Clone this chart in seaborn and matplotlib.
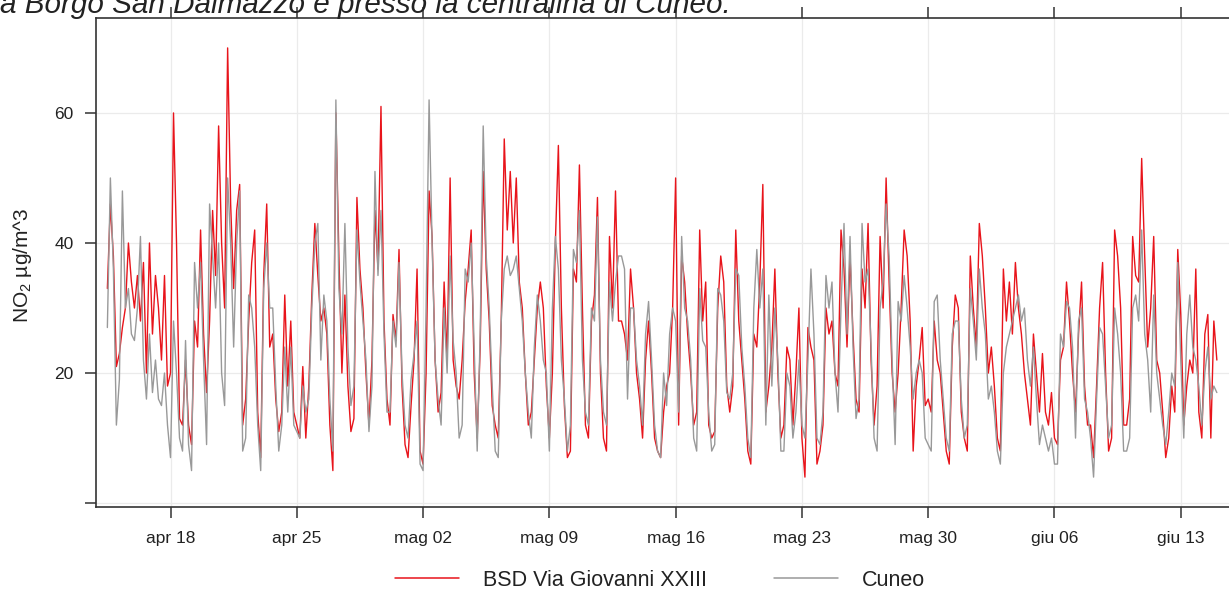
import matplotlib
matplotlib.use("Agg")
import matplotlib.pyplot as plt
from matplotlib.lines import Line2D
import pandas as pd
import seaborn as sns

# NO2 readings every 4 hours, one row per day, starting 14 April at 12:00
series_start = "2021-04-14 12:00"
series_step = "4h"

bsd_values = [
    33, 46, 38,                 # apr 14
    21, 23, 27, 30, 40, 34,     # apr 15
    30, 35, 28, 37, 20, 40,
    26, 35, 30, 22, 35, 18,
    20, 60, 40, 13, 12, 22,     # apr 18
    12, 9, 28, 24, 42, 26,
    17, 28, 45, 35, 58, 40,
    30, 70, 46, 33, 45, 49,
    12, 16, 28, 37, 42, 14,
    7, 35, 46, 24, 26, 16,
    11, 14, 32, 18, 28, 14,
    12, 10, 21, 10, 18, 32,     # apr 25
    43, 35, 28, 30, 26, 12,
    5, 60, 38, 20, 32, 18,
    11, 13, 47, 36, 30, 20,
    12, 22, 45, 36, 61, 28,
    16, 12, 29, 25, 39, 18,
    9, 7, 15, 22, 36, 8,        # mag 01
    6, 20, 48, 41, 22, 14,
    17, 34, 22, 50, 22, 18,
    16, 22, 31, 36, 42, 20,
    10, 24, 51, 36, 28, 15,
    12, 10, 28, 56, 42, 51,
    40, 50, 34, 30, 20, 12,
    14, 22, 30, 34, 30, 18,
    10, 20, 40, 55, 30, 15,     # mag 09
    7, 8, 36, 34, 52, 30,
    12, 10, 28, 32, 47, 20,
    10, 8, 41, 30, 48, 28,
    28, 26, 22, 36, 30, 20,
    16, 10, 22, 28, 20, 10,
    8, 7, 14, 18, 20, 30,
    50, 12, 38, 34, 26, 20,     # mag 16
    12, 14, 42, 28, 34, 12,
    10, 11, 30, 38, 34, 18,
    14, 18, 42, 28, 22, 16,
    8, 6, 26, 24, 34, 49,
    14, 18, 24, 36, 20, 10,
    12, 24, 22, 12, 20, 30,
    10, 4, 27, 24, 22, 6,       # mag 23
    8, 12, 30, 26, 28, 20,
    18, 42, 36, 24, 38, 26,
    16, 14, 36, 30, 43, 22,
    12, 18, 41, 30, 50, 34,
    20, 14, 20, 30, 42, 38,
    28, 8, 18, 22, 27, 15,
    16, 14, 28, 22, 20, 14,     # mag 30
    8, 6, 24, 32, 30, 14,
    10, 8, 38, 30, 24, 43,      # giu 01
    38, 30, 20, 24, 18, 10,
    8, 36, 28, 34, 26, 37,
    30, 26, 20, 16, 12, 26,
    20, 14, 23, 14, 12, 17,
    10, 9, 22, 24, 34, 28,      # giu 06
    20, 14, 26, 34, 18, 12,
    12, 7, 18, 30, 37, 20,
    8, 10, 42, 38, 30, 12,
    12, 16, 41, 35, 34, 53,
    38, 24, 30, 41, 22, 20,
    14, 7, 10, 18, 14, 39,
    29, 12, 18, 22, 20, 36,     # giu 13
    14, 10, 26, 29, 10, 28,
    22,                         # giu 15
]

cuneo_values = [
    27, 50, 36,
    12, 19, 48, 30, 33, 26,
    25, 30, 41, 22, 16, 26,
    17, 22, 16, 15, 20, 12,
    7, 28, 20, 10, 8, 25,
    9, 5, 37, 30, 37, 22,
    9, 46, 38, 30, 40, 20,
    15, 50, 40, 24, 40, 48,
    8, 10, 32, 30, 24, 12,
    5, 33, 40, 30, 30, 18,
    8, 12, 24, 14, 24, 12,
    11, 10, 18, 14, 16, 30,
    40, 43, 22, 32, 28, 16,
    8, 62, 33, 26, 43, 24,
    15, 18, 42, 34, 28, 22,
    11, 18, 51, 35, 45, 26,
    14, 14, 28, 24, 37, 20,
    12, 10, 19, 23, 28, 6,
    5, 30, 62, 40, 22, 16,
    12, 30, 20, 38, 25, 20,
    10, 12, 36, 34, 40, 24,
    8, 26, 58, 38, 30, 18,
    8, 7, 28, 36, 38, 35,
    36, 38, 33, 28, 20, 14,
    10, 24, 32, 28, 22, 20,
    8, 30, 41, 36, 22, 16,
    8, 12, 39, 37, 45, 22,
    14, 12, 30, 28, 44, 22,
    14, 12, 34, 28, 34, 38,
    38, 36, 16, 30, 30, 22,
    18, 12, 26, 31, 22, 12,
    8, 7, 20, 15, 26, 30,
    28, 14, 41, 30, 28, 22,
    10, 8, 33, 25, 24, 14,
    8, 9, 33, 32, 28, 17,
    16, 20, 36, 35, 24, 18,
    10, 7, 30, 39, 30, 36,
    12, 32, 18, 30, 22, 8,
    8, 20, 18, 10, 14, 22,
    12, 10, 22, 36, 26, 10,
    9, 14, 35, 30, 34, 20,
    14, 30, 43, 26, 41, 24,
    13, 16, 43, 34, 36, 24,
    10, 8, 30, 34, 46, 38,
    22, 9, 31, 28, 35, 30,
    24, 16, 20, 22, 20, 10,
    9, 8, 31, 32, 22, 16,
    10, 8, 26, 28, 28, 16,
    10, 12, 33, 28, 22, 36,
    30, 26, 16, 18, 14, 8,
    6, 20, 24, 26, 28, 30,
    32, 28, 30, 22, 18, 24,
    16, 9, 12, 10, 8, 10,
    6, 6, 26, 24, 31, 30,
    24, 10, 28, 30, 16, 14,
    10, 4, 16, 27, 26, 18,
    10, 12, 30, 26, 20, 8,
    8, 10, 30, 32, 28, 42,
    26, 22, 14, 32, 20, 16,
    12, 9, 14, 20, 18, 37,
    22, 10, 26, 32, 24, 22,
    18, 12, 20, 24, 16, 18,
    17,
]

station_names = ["BSD Via Giovanni XXIII", "Cuneo"]
station_colors = ["#E8141B", "#999999"]

tick_dates = ["2021-04-18", "2021-04-25", "2021-05-02", "2021-05-09", "2021-05-16",
              "2021-05-23", "2021-05-30", "2021-06-06", "2021-06-13"]
tick_labels = ["apr 18", "apr 25", "mag 02", "mag 09", "mag 16",
               "mag 23", "mag 30", "giu 06", "giu 13"]
y_ticks = [0, 20, 40, 60]
y_tick_labels = ["", "20", "40", "60"]

title_text = "a Borgo San Dalmazzo e presso la centralina di Cuneo."

# ---- long-form table ----
frames = []
for name, vals in zip(station_names, [bsd_values, cuneo_values]):
    t = pd.date_range(series_start, periods=len(vals), freq=series_step)
    frames.append(pd.DataFrame({"time": t, "no2": vals, "stazione": name}))
data = pd.concat(frames, ignore_index=True)

sns.set_theme(style="white")
plt.rcParams["font.family"] = ["Liberation Sans", "DejaVu Sans"]
plt.rcParams["mathtext.fontset"] = "custom"
plt.rcParams["mathtext.rm"] = "Liberation Sans"
plt.rcParams["mathtext.it"] = "Liberation Sans:italic"

W, H = 1229, 590
fig = plt.figure(figsize=(W / 100, H / 100), dpi=100)
ax_left, ax_right, ax_top, ax_bottom = 96, 1232, 18, 507
ax = fig.add_axes([ax_left / W, (H - ax_bottom) / H,
                   (ax_right - ax_left) / W, (ax_bottom - ax_top) / H])

sns.lineplot(data=data, x="time", y="no2", hue="stazione", hue_order=station_names,
             palette=station_colors, linewidth=1.0, estimator=None,
             legend=False, ax=ax)

ref = pd.Timestamp("2021-04-18")
ax.set_xlim(ref - pd.Timedelta(days=4.13), ref + pd.Timedelta(days=58.84))
ax.set_ylim(-0.6, 74.6)

ax.set_xticks(pd.to_datetime(tick_dates))
ax.set_xticklabels(tick_labels)
ax.set_yticks(y_ticks)
ax.set_yticklabels(y_tick_labels)
ax.set_xlabel("")
ax.set_ylabel("")

ax.grid(True, color="#EBEBEB", linewidth=0.9)
ax.set_axisbelow(True)

for side in ["left", "bottom", "top"]:
    ax.spines[side].set_visible(True)
    ax.spines[side].set_color("#333333")
    ax.spines[side].set_linewidth(1.2)
ax.spines["right"].set_visible(False)

ax.tick_params(axis="both", which="major", direction="out", length=8,
               width=1.1, color="#333333", labelsize=12.5, labelcolor="#222222")
ax.tick_params(axis="x", top=True, labeltop=False, bottom=True, pad=9)
ax.tick_params(axis="y", left=True, pad=8)

fig.text(22 / W, 1 - 265 / H, "NO$_\\mathregular{2}$ µg/m^3", rotation=90,
         ha="center", va="center", fontsize=15, color="#222222")

fig.text(0, 1 - 13 / H, title_text, ha="left", va="baseline",
         fontsize=21.3, style="italic", color="#222222")

handles = [Line2D([], [], color=c, linewidth=1.1) for c in station_colors]
fig.legend(handles, station_names, loc="center", bbox_to_anchor=(660 / W, 10 / H),
           ncol=2, frameon=False, fontsize=15.5, handlelength=3.0,
           handletextpad=1.1, columnspacing=3.1, borderpad=0, labelcolor="#222222")

fig.savefig("out.png", dpi=100)
